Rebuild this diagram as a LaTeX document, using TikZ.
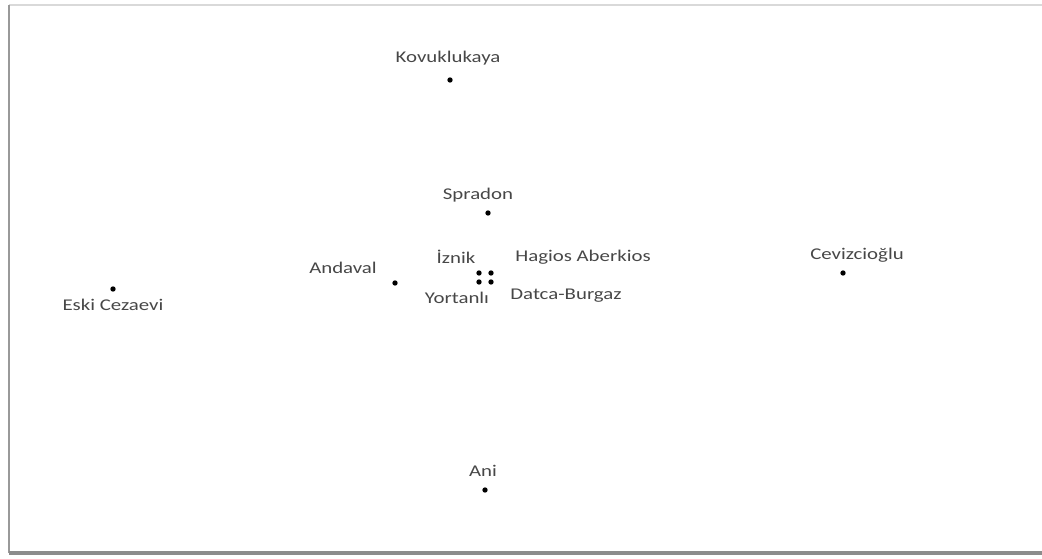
\documentclass[tikz,border=0pt]{standalone}
\usepackage{fontspec}
\setmainfont{Carlito}
\newfontfamily\sitefont[FakeStretch=1.27]{Carlito}
\usepackage{tikz}
\tikzset{
    site-dot/.style = {circle, fill=black, inner sep=0pt, minimum size=4pt},
    site-name/.style = {text=black!72, font=\sitefont\fontsize{12.3}{14}\selectfont, inner sep=0pt},
}

\begin{document}
\begin{tikzpicture}[x=0.75pt, y=-0.75pt]
\useasboundingbox (0,0) rectangle (1042,559);
% frame
\draw[black!15, line width=1pt] (9,5) -- (1042,5);
\draw[black!40, line width=2pt] (9,5) -- (9,553);
\draw[black!45, line width=3pt] (9,553) -- (1042,553);

% sites
\node[site-dot] (kovuklukaya) at (450,80) {};
\node[site-dot] (spradon) at (488,213) {};
\node[site-dot] (cevizcioglu) at (843,273) {};
\node[site-dot] (andaval) at (395,283) {};
\node[site-dot] (iznik) at (479,273) {};
\node[site-dot] (hagios) at (491,273) {};
\node[site-dot] (yortanli) at (479,282) {};
\node[site-dot] (datca) at (491,282) {};
\node[site-dot] (eski) at (113,289) {};
\node[site-dot] (ani) at (485,490) {};

% names
\node[site-name] (kovuklukaya-name) at (448,58) {Kovuklukaya};
\node[site-name] (spradon-name) at (478,195) {Spradon};
\node[site-name] (cevizcioglu-name) at (857,255) {Cevizcioğlu};
\node[site-name] (andaval-name) at (343,268) {Andaval};
\node[site-name] (iznik-name) at (456,257) {İznik};
\node[site-name] (hagios-name) at (583,257) {Hagios Aberkios};
\node[site-name] (yortanli-name) at (457,298) {Yortanlı};
\node[site-name] (datca-name) at (566,296) {Datca-Burgaz};
\node[site-name] (eski-name) at (113,305) {Eski Cezaevi};
\node[site-name] (ani-name) at (483,471) {Ani};
\end{tikzpicture}
\end{document}
